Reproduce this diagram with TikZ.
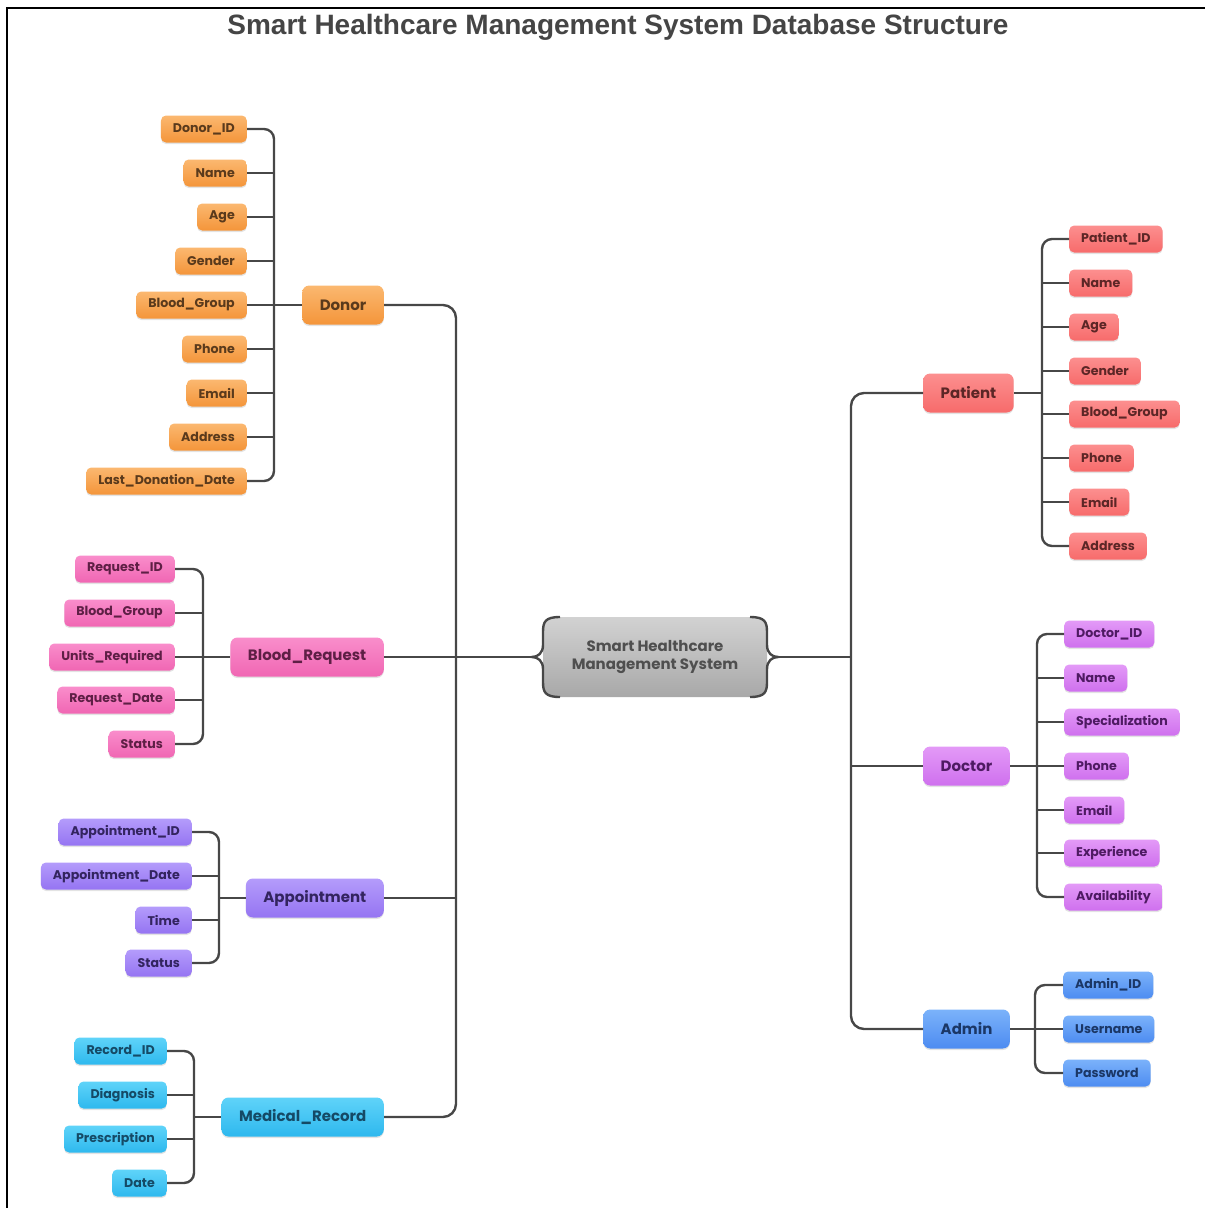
\documentclass[tikz,border=0pt]{standalone}
\usepackage{fontspec}
\setmainfont{Poppins}
\newfontfamily\titlefont{Liberation Sans}
\usetikzlibrary{shadows,calc}
\definecolor{lineC}{HTML}{474747}
\definecolor{orT}{HTML}{FBB870}\definecolor{orB}{HTML}{F4953A}\definecolor{orX}{HTML}{5A3A1C}
\definecolor{rdT}{HTML}{FC8F8F}\definecolor{rdB}{HTML}{F76B6B}\definecolor{rdX}{HTML}{5C2626}
\definecolor{pkT}{HTML}{F98DCB}\definecolor{pkB}{HTML}{F066B3}\definecolor{pkX}{HTML}{5E1F45}
\definecolor{vlT}{HTML}{B49CFB}\definecolor{vlB}{HTML}{9574F2}\definecolor{vlX}{HTML}{33245F}
\definecolor{cyT}{HTML}{5FD3F9}\definecolor{cyB}{HTML}{2EB8EE}\definecolor{cyX}{HTML}{154A66}
\definecolor{dcT}{HTML}{E39AF7}\definecolor{dcB}{HTML}{CF70EE}\definecolor{dcX}{HTML}{4E1A62}
\definecolor{blT}{HTML}{7BB2FA}\definecolor{blB}{HTML}{4D8CF1}\definecolor{blX}{HTML}{1B3766}
\definecolor{gyT}{HTML}{D2D2D2}\definecolor{gyB}{HTML}{A8A8A8}\definecolor{gyX}{HTML}{4F4F4F}
\definecolor{titleC}{HTML}{454545}
\tikzset{
  conn/.style={draw=lineC, line width=2.4pt},
  bus/.style={conn, rounded corners=10pt},
  trunk/.style={conn, rounded corners=13pt},
  pal/.style={top color=#1T, bottom color=#1B, text=#1X},
  softshadow/.style={drop shadow={shadow xshift=0pt, shadow yshift=-1.5pt, opacity=0.22}},
  attr/.style={rectangle, rounded corners=5pt, minimum height=27pt, inner xsep=12pt, inner ysep=0pt,
    font=\bfseries\fontsize{12.6}{14}\selectfont, softshadow},
  ent/.style={rectangle, rounded corners=7pt, minimum height=39pt, inner xsep=17.5pt, inner ysep=0pt,
    font=\bfseries\fontsize{15}{18}\selectfont, softshadow},
}
\begin{document}
\begin{tikzpicture}[x=1pt,y=-1pt]
\useasboundingbox (0,0) rectangle (1205,1208);
\draw[line width=1.6pt, black] (7,1208) -- (7,8) -- (1205,8);
\node[font=\titlefont\bfseries\fontsize{28}{32}\selectfont, text=titleC] (title) at (618,27) {Smart Healthcare Management System Database Structure};

% central node
\node[rectangle, rounded corners=12pt, minimum width=224pt, minimum height=80pt, top color=gyT, bottom color=gyB,
  text=gyX, align=center, font=\bfseries\fontsize{15}{18}\selectfont] (center) at (655,657) {Smart Healthcare\\Management System};
\coordinate (cl) at (532,657);
\coordinate (cr) at (778,657);
\draw[conn] (560,617) .. controls (545,617) and (543,622) .. (543,632) -- (543,645) .. controls (543,653) and (538,657) .. (cl)
  .. controls (538,657) and (543,661) .. (543,669) -- (543,682) .. controls (543,692) and (545,697) .. (560,697);
\draw[conn] (750,617) .. controls (765,617) and (767,622) .. (767,632) -- (767,645) .. controls (767,653) and (772,657) .. (cr)
  .. controls (772,657) and (767,661) .. (767,669) -- (767,682) .. controls (767,692) and (765,697) .. (750,697);

% entities
\node[ent, pal=or, anchor=east] (donor) at (384,305) {Donor};
\node[ent, pal=pk, anchor=east] (breq) at (384,657) {Blood\_Request};
\node[ent, pal=vl, anchor=east] (appt) at (384,898) {Appointment};
\node[ent, pal=cy, anchor=east] (medrec) at (384,1117) {Medical\_Record};
\node[ent, pal=rd, anchor=west] (patient) at (923,393) {Patient};
\node[ent, pal=dc, anchor=west] (doctor) at (923,766) {Doctor};
\node[ent, pal=bl, anchor=west] (admin) at (923,1029) {Admin};

% donor attributes
\foreach \n/\y/\t in {1/129/Donor\_ID, 2/173/Name, 3/217/Age, 4/261/Gender, 5/305/Blood\_Group, 6/349/Phone, 7/393/Email, 8/437/Address, 9/481/Last\_Donation\_Date}
  \node[attr, pal=or, anchor=east] (d\n) at (247,\y) {\t};
% blood request attributes
\foreach \n/\y/\t in {1/569/Request\_ID, 2/613/Blood\_Group, 3/657/Units\_Required, 4/700/Request\_Date, 5/744/Status}
  \node[attr, pal=pk, anchor=east] (b\n) at (175,\y) {\t};
% appointment attributes
\foreach \n/\y/\t in {1/832/Appointment\_ID, 2/876/Appointment\_Date, 3/920/Time, 4/963/Status}
  \node[attr, pal=vl, anchor=east] (a\n) at (192,\y) {\t};
% medical record attributes
\foreach \n/\y/\t in {1/1051/Record\_ID, 2/1095/Diagnosis, 3/1139/Prescription, 4/1183/Date}
  \node[attr, pal=cy, anchor=east] (m\n) at (167,\y) {\t};
% patient attributes
\foreach \n/\y/\t in {1/239/Patient\_ID, 2/283/Name, 3/327/Age, 4/371/Gender, 5/414/Blood\_Group, 6/458/Phone, 7/502/Email, 8/546/Address}
  \node[attr, pal=rd, anchor=west] (p\n) at (1069,\y) {\t};
% doctor attributes
\foreach \n/\y/\t in {1/634/Doctor\_ID, 2/678/Name, 3/722/Specialization, 4/766/Phone, 5/810/Email, 6/853/Experience, 7/897/Availability}
  \node[attr, pal=dc, anchor=west] (c\n) at (1064,\y) {\t};
% admin attributes
\foreach \n/\y/\t in {1/985/Admin\_ID, 2/1029/Username, 3/1073/Password}
  \node[attr, pal=bl, anchor=west] (n\n) at (1063,\y) {\t};

% bus coordinates
\coordinate (bD) at (274,305);
\coordinate (bB) at (203,657);
\coordinate (bA) at (219,898);
\coordinate (bM) at (194,1117);
\coordinate (bP) at (1042,393);
\coordinate (bC) at (1037,766);
\coordinate (bN) at (1035,1029);
\coordinate (tL) at (456,657);
\coordinate (tR) at (851,657);

% donor
\draw[bus] (d1.east) -| (bD) |- (d9.east);
\foreach \n in {2,...,8} \draw[conn] (d\n.east) -- (d\n.east -| bD);
\draw[conn] (bD) -- (donor.west);
% blood request
\draw[bus] (b1.east) -| (bB) |- (b5.east);
\foreach \n in {2,3,4} \draw[conn] (b\n.east) -- (b\n.east -| bB);
\draw[conn] (bB) -- (breq.west);
% appointment
\draw[bus] (a1.east) -| (bA) |- (a4.east);
\foreach \n in {2,3} \draw[conn] (a\n.east) -- (a\n.east -| bA);
\draw[conn] (bA) -- (appt.west);
% medical record
\draw[bus] (m1.east) -| (bM) |- (m4.east);
\foreach \n in {2,3} \draw[conn] (m\n.east) -- (m\n.east -| bM);
\draw[conn] (bM) -- (medrec.west);
% patient
\draw[bus] (p1.west) -| (bP) |- (p8.west);
\foreach \n in {2,...,7} \draw[conn] (p\n.west) -- (p\n.west -| bP);
\draw[conn] (patient.east) -- (bP);
% doctor
\draw[bus] (c1.west) -| (bC) |- (c7.west);
\foreach \n in {2,...,6} \draw[conn] (c\n.west) -- (c\n.west -| bC);
\draw[conn] (doctor.east) -- (bC);
% admin
\draw[bus] (n1.west) -| (bN) |- (n3.west);
\draw[conn] (n2.west) -- (admin.east);
% trunks
\draw[trunk] (donor.east) -| (tL) |- (medrec.east);
\draw[conn] (breq.east) -- (cl);
\draw[conn] (appt.east) -- (appt.east -| tL);
\draw[trunk] (patient.west) -| (tR) |- (admin.west);
\draw[conn] (cr) -- (tR);
\draw[conn] (doctor.west) -- (doctor.west -| tR);
\end{tikzpicture}
\end{document}
